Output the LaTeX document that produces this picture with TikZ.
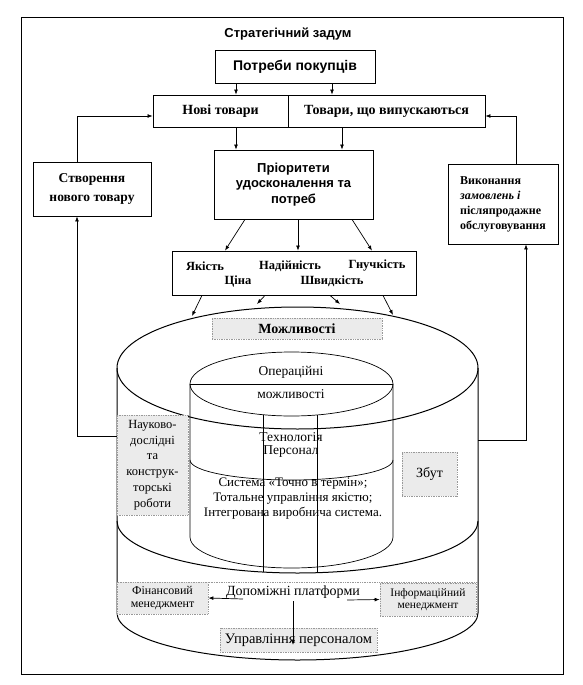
\documentclass[tikz,border=0pt]{standalone}
\usepackage{fontspec}
\setmainfont{Liberation Serif}
\newfontfamily\arialfont{Liberation Sans}
\usetikzlibrary{arrows.meta}
\begin{document}
\begin{tikzpicture}[x=1pt,y=-1pt,
  box/.style={draw, line width=0.8pt, inner sep=0pt},
  grayb/.style={draw=black!40, densely dotted, fill=black!8, line width=0.7pt, inner sep=0pt},
  arr/.style={-{Latex[length=5pt,width=3.8pt]}, line width=0.7pt},
  ln/.style={line width=0.7pt},
  cyl/.style={line width=1pt},
  lab/.style={inner sep=0pt, align=center},
  sfb/.style={font=\arialfont\bfseries\fontsize{13}{15.5}\selectfont},
  srb/.style={font=\bfseries\fontsize{12.5}{15}\selectfont},
  srr/.style={font=\fontsize{13.5}{15}\selectfont}
]
\useasboundingbox (0,0) rectangle (583,685);
\fill[white] (0,0) rectangle (583,685);
% outer frame
\draw[ln] (21,17) rectangle (563,674);
\node[lab, font=\arialfont\bfseries\fontsize{13}{15}\selectfont] (title) at (288,34) {Стратегічний задум};

% top boxes
\node[box, font=\arialfont\bfseries\fontsize{14}{16}\selectfont, minimum width=160pt, minimum height=33pt] (needs) at (295,66.5) {Потреби покупців};
\node[box, font=\bfseries\fontsize{14}{16}\selectfont, minimum width=135pt, minimum height=32pt] (prodL) at (220.5,111) {Нові товари};
\node[box, font=\bfseries\fontsize{14}{16}\selectfont, minimum width=197pt, minimum height=32pt] (prodR) at (386.5,111) {Товари, що випускаються};
\node[box, sfb, minimum width=159pt, minimum height=69pt, align=center] (prio) at (293.5,184.5) {Пріоритети\\удосконалення та\\потреб};
\node[box, font=\bfseries\fontsize{13.5}{19}\selectfont, minimum width=118pt, minimum height=54pt, align=center] (create) at (92,189) {Створення\\нового товару};
\node[box, font=\bfseries\fontsize{12}{15}\selectfont, minimum width=110pt, minimum height=80pt, align=left] (fulfil) at (503,204) {Виконання\\\textit{замовлень і}\\післяпродажне\\обслуговування};
\node[box, minimum width=244pt, minimum height=44pt] (qual) at (294,273) {};
\node[lab, srb] (q1) at (205,266) {Якість};
\node[lab, srb] (q2) at (290,266) {Надійність};
\node[lab, srb] (q3) at (377,266) {Гнучкість};
\node[lab, srb] (q4) at (238,281) {Ціна};
\node[lab, srb] (q5) at (332,281) {Швидкість};

% arrows top
\draw[arr] ([xshift=-59pt]needs.south) -- ([xshift=15.5pt]prodL.north);
\draw[arr] ([xshift=37pt]needs.south) -- ([xshift=-54.5pt]prodR.north);
\draw[arr] ([xshift=15.5pt]prodL.south) -- ([xshift=-57.5pt]prio.north);
\draw[arr] ([xshift=-44.5pt]prodR.south) -- ([xshift=48.5pt]prio.north);
\draw[arr] ([xshift=-48.5pt]prio.south) -- ([xshift=-69pt]qual.north);
\draw[arr] ([xshift=4.5pt]prio.south) -- ([xshift=4pt]qual.north);
\draw[arr] ([xshift=58.5pt]prio.south) -- ([xshift=78pt]qual.north);

% side loops
\coordinate (crT) at ([xshift=-15pt]create.north);
\coordinate (crB) at ([xshift=-15pt]create.south);
\coordinate (fT) at ([xshift=13pt]fulfil.north);
\coordinate (fB) at ([xshift=23pt]fulfil.south);
\coordinate (cl) at (117,436);
\coordinate (cr) at (478,440);
\draw[arr] (crT) |- ([yshift=-5pt]prodL.west);
\draw[arr] (fT) |- ([yshift=-5pt]prodR.east);
\draw[arr] (cl) -| (crB);
\draw[arr] (cr) -| (fB);

% cylinder
\draw[cyl] (297.5,368) ellipse [x radius=180.5pt, y radius=61pt];
\draw[cyl] (117,368) -- (117,613) arc[start angle=180, end angle=360, x radius=180.5pt, y radius=47pt] -- (478,368);
\draw[cyl] (117,521) arc[start angle=180, end angle=360, x radius=180.5pt, y radius=52pt];
\draw[ln] (291.5,384) ellipse [x radius=101.5pt, y radius=32pt];
\draw[ln] (190,384) -- (393,384);
\draw[ln] (190,384) -- (190,537) arc[start angle=180, end angle=360, x radius=101.5pt, y radius=31pt] -- (393,384);
\draw[ln] (190,460) arc[start angle=180, end angle=360, x radius=101.5pt, y radius=20pt];
\draw[ln] (263,414.7) -- (263,572);
\draw[ln] (317,415) -- (317,572.7);

% arrows into cylinder
\coordinate (c1) at (192,316);
\coordinate (c2) at (257,304);
\coordinate (c3) at (340,304);
\coordinate (c4) at (393,315);
\draw[arr] ([xshift=-92pt]qual.south) -- (c1);
\draw[arr] ([xshift=-29pt]qual.south) -- (c2);
\draw[arr] ([xshift=36pt]qual.south) -- (c3);
\draw[arr] ([xshift=89pt]qual.south) -- (c4);

% cylinder labels
\node[grayb, font=\bfseries\fontsize{14}{16}\selectfont, minimum width=170pt, minimum height=21pt] (mozh) at (297,328.5) {Можливості};
\node[lab, srr] (op1) at (291,372) {Операційні};
\node[lab, srr] (op2) at (291,394) {можливості};
\node[lab, srr] (tech) at (291,437) {Технологія};
\node[lab, srr] (pers) at (291,452) {Персонал};
\node[lab, font=\fontsize{13}{15}\selectfont] (sys) at (293,498.5) {Система «Точно в термін»;\\Тотальне управління якістю;\\Інтегрована виробнича система.};
\node[grayb, font=\fontsize{12.5}{15.8}\selectfont, align=center, minimum width=71pt, minimum height=100pt] (rnd) at (152.5,465) {Науково-\\дослідні\\та\\конструк-\\торські\\роботи};
\node[grayb, font=\fontsize{14}{16}\selectfont, minimum width=55pt, minimum height=44pt] (zbut) at (429.5,474) {Збут};

% bottom band
\draw[black!40, densely dotted, line width=0.7pt] (117,582) -- (478,582);
\node[grayb, font=\fontsize{12}{12.5}\selectfont, align=center, minimum width=91pt, minimum height=32pt] (fin) at (162.5,598) {Фінансовий\\менеджмент};
\node[grayb, font=\fontsize{11.5}{12.5}\selectfont, align=center, minimum width=96pt, minimum height=33pt] (inf) at (428,599.5) {Інформаційний\\менеджмент};
\node[grayb, font=\fontsize{14.5}{16}\selectfont, minimum width=157pt, minimum height=24pt] (upr) at (298.5,640) {Управління  персоналом};
\node[lab, font=\fontsize{14}{15}\selectfont] (dop) at (293,592) {Допоміжні платформи};
\draw[arr] ([xshift=-50pt,yshift=-7pt]dop.center) -- (fin.east);
\draw[arr] ([xshift=54pt,yshift=-8pt]dop.center) -- (inf.west);
\draw[arr] ([yshift=-9pt]dop.center) -- ([xshift=-5.5pt,yshift=-5pt]upr.center);
\end{tikzpicture}
\end{document}
